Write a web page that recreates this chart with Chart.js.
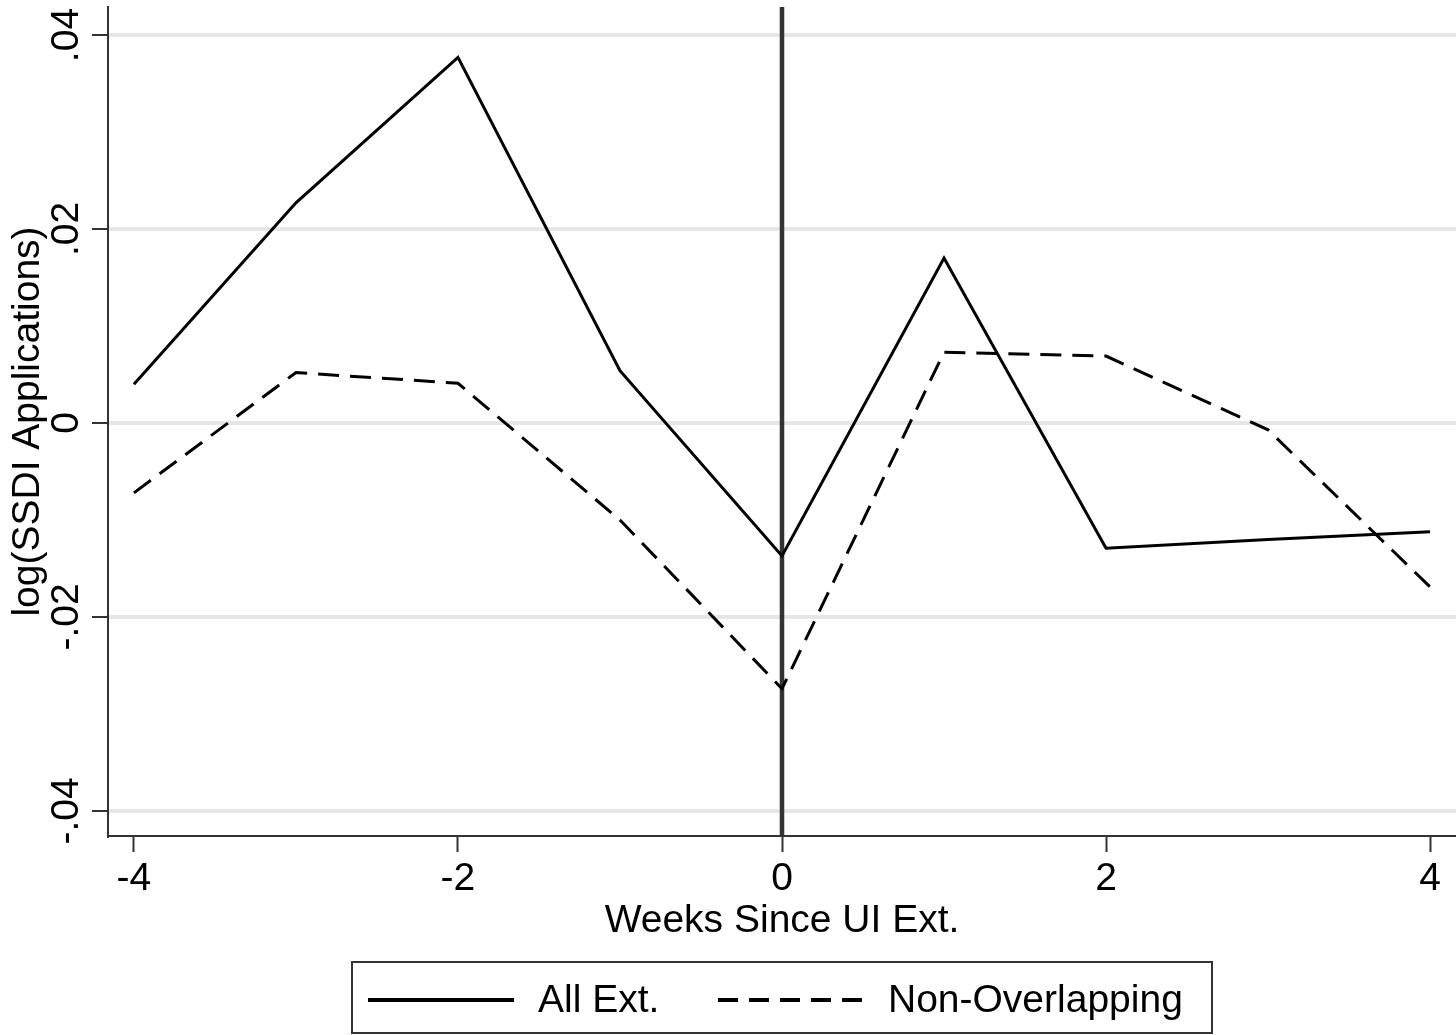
<!DOCTYPE html>
<html>
<head>
<meta charset="utf-8">
<script src="https://cdn.jsdelivr.net/npm/chart.js@4/dist/chart.umd.min.js"></script>
<style>
  body { margin: 0; background: #fff; }
  #chart { display: block; }
</style>
</head>
<body>
<canvas id="chart" width="1456" height="1035"></canvas>
<script>
const weeks = [-4, -3, -2, -1, 0, 1, 2, 3, 4];
const allExt = [0.0040, 0.0227, 0.0377, 0.0054, -0.0137, 0.0170, -0.0129, -0.0120, -0.0112];
const nonOverlapping = [-0.0072, 0.0052, 0.0041, -0.0100, -0.0274, 0.0073, 0.0069, -0.0007, -0.0169];
const seriesNames = ['All Ext.', 'Non-Overlapping'];
const xTicks = [-4, -2, 0, 2, 4];
const yTicks = [-0.04, -0.02, 0, 0.02, 0.04];
const refWeek = 0;

const FONT = 'Liberation Sans, Arial, sans-serif';
const FSIZE = 39;
const INK = '#333';

// stata style labels: .04, -.02, 0
function stataLabel(v) {
  if (Math.abs(v) < 1e-9) return '0';
  const s = v.toFixed(2);
  return s.replace(/^(-?)0\./, '$1.');
}

function toPoints(ys) {
  return weeks.map((w, i) => ({ x: w, y: ys[i] }));
}

// vertical line at week 0, drawn under the series
const refLine = {
  id: 'refLine',
  beforeDatasetsDraw(chart) {
    const { ctx, chartArea, scales } = chart;
    const x = scales.x.getPixelForValue(refWeek);
    ctx.save();
    ctx.strokeStyle = INK;
    ctx.lineWidth = 4.5;
    ctx.beginPath();
    ctx.moveTo(x, chartArea.top);
    ctx.lineTo(x, chartArea.bottom);
    ctx.stroke();
    ctx.restore();
  }
};

// rotated y tick labels and y title
const yText = {
  id: 'yText',
  afterDraw(chart) {
    const { ctx, chartArea, scales } = chart;
    const y = scales.y;
    ctx.save();
    ctx.fillStyle = '#000';
    ctx.font = FSIZE + 'px ' + FONT;
    ctx.textAlign = 'center';
    ctx.textBaseline = 'alphabetic';
    y.ticks.forEach(t => {
      const py = y.getPixelForValue(t.value);
      ctx.save();
      ctx.translate(78, py);
      ctx.rotate(-Math.PI / 2);
      ctx.fillText(stataLabel(t.value), 0, 0);
      ctx.restore();
    });
    ctx.save();
    ctx.translate(39, (chartArea.top + chartArea.bottom) / 2);
    ctx.rotate(-Math.PI / 2);
    ctx.fillText('log(SSDI Applications)', 0, 0);
    ctx.restore();
    ctx.restore();
  }
};

// boxed legend under the axis title
const boxLegend = {
  id: 'boxLegend',
  afterDraw(chart) {
    const { ctx } = chart;
    const sets = chart.data.datasets;
    ctx.save();
    ctx.strokeStyle = INK;
    ctx.lineWidth = 2;
    ctx.strokeRect(352, 962, 860, 71);
    const starts = [368, 718];
    const cy = 1000;
    ctx.font = FSIZE + 'px ' + FONT;
    ctx.fillStyle = '#000';
    ctx.textBaseline = 'middle';
    ctx.textAlign = 'left';
    sets.forEach((ds, i) => {
      const x0 = starts[i];
      ctx.save();
      ctx.strokeStyle = '#000';
      ctx.lineWidth = 4;
      ctx.setLineDash(ds.borderDash && ds.borderDash.length ? [20, 11] : []);
      ctx.beginPath();
      ctx.moveTo(x0, cy);
      ctx.lineTo(x0 + 146, cy);
      ctx.stroke();
      ctx.restore();
      ctx.fillText(ds.label, x0 + 170, cy + 1);
    });
    ctx.restore();
  }
};

new Chart(document.getElementById('chart'), {
  type: 'line',
  data: {
    datasets: [
      {
        label: seriesNames[0],
        data: toPoints(allExt),
        borderColor: '#000',
        borderWidth: 3,
        pointRadius: 0,
        tension: 0
      },
      {
        label: seriesNames[1],
        data: toPoints(nonOverlapping),
        borderColor: '#000',
        borderWidth: 3,
        borderDash: [21, 11],
        pointRadius: 0,
        tension: 0
      }
    ]
  },
  options: {
    responsive: false,
    animation: false,
    layout: { padding: { left: 0, top: 7, right: 0, bottom: 0 } },
    plugins: {
      legend: { display: false },
      tooltip: { enabled: false }
    },
    scales: {
      x: {
        type: 'linear',
        min: -4.16,
        max: 4.16,
        afterBuildTicks: (s) => { s.ticks = xTicks.map(v => ({ value: v })); },
        afterFit: (s) => { s.height = 199; },
        border: { display: true, color: INK, width: 2 },
        grid: {
          drawOnChartArea: false,
          drawTicks: true,
          tickLength: 16,
          tickColor: INK,
          tickWidth: 2
        },
        ticks: {
          color: '#000',
          font: { family: FONT, size: FSIZE },
          padding: 4,
          maxRotation: 0,
          callback: (v) => String(v)
        },
        title: {
          display: true,
          text: 'Weeks Since UI Ext.',
          color: '#000',
          font: { family: FONT, size: FSIZE },
          padding: { top: 0, bottom: 90 }
        }
      },
      y: {
        type: 'linear',
        min: -0.04258,
        max: 0.04289,
        afterBuildTicks: (s) => { s.ticks = yTicks.map(v => ({ value: v })); },
        afterFit: (s) => { s.width = 108; },
        border: { display: true, color: INK, width: 2 },
        grid: {
          color: '#e6e6e6',
          lineWidth: 4,
          drawTicks: true,
          tickLength: 16,
          tickColor: INK,
          tickWidth: 2
        },
        ticks: { display: false }
      }
    }
  },
  plugins: [refLine, yText, boxLegend]
});
</script>
</body>
</html>
